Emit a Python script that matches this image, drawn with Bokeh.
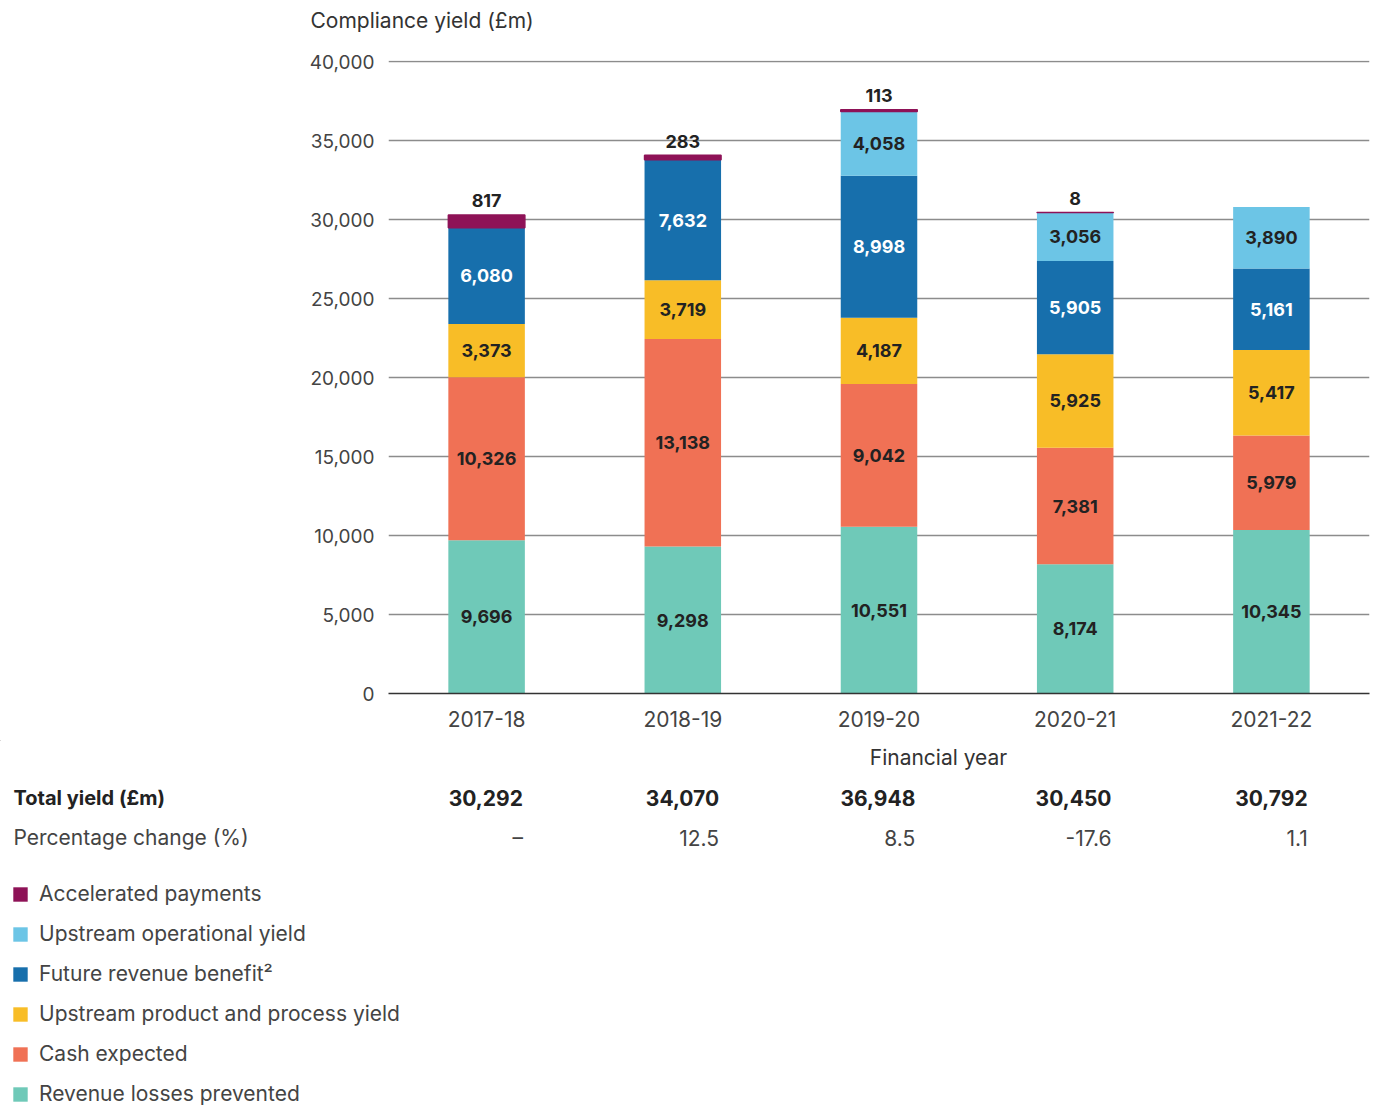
import numpy as np
from bokeh.plotting import figure
from bokeh.models import (Range1d, FixedTicker, NumeralTickFormatter, ColumnDataSource,
                          LabelSet, Legend, LegendItem)
from bokeh.core.properties import value
from bokeh.embed import file_html
from bokeh.resources import INLINE

# ---------------- data ----------------
years = ["2017-18", "2018-19", "2019-20", "2020-21", "2021-22"]
series_names = ["Revenue losses prevented", "Cash expected",
                "Upstream product and process yield", "Future revenue benefit²",
                "Upstream operational yield", "Accelerated payments"]
revenue_losses_prevented = [9696, 9298, 10551, 8174, 10345]
cash_expected = [10326, 13138, 9042, 7381, 5979]
upstream_product_process = [3373, 3719, 4187, 5925, 5417]
future_revenue_benefit = [6080, 7632, 8998, 5905, 5161]
upstream_operational = [0, 0, 4058, 3056, 3890]
accelerated_payments = [817, 283, 113, 8, 0]
total_yield = ["30,292", "34,070", "36,948", "30,450", "30,792"]
pct_change = ["–", "12.5", "8.5", "-17.6", "1.1"]
y_ticks = [0, 5000, 10000, 15000, 20000, 25000, 30000, 35000, 40000]

series_values = [revenue_losses_prevented, cash_expected, upstream_product_process,
                 future_revenue_benefit, upstream_operational, accelerated_payments]
colors = ["#6FC9B8", "#F07155", "#F8BD27", "#176FAC", "#6CC5E6", "#8E1257"]
label_colors = ["#222222", "#222222", "#222222", "#ffffff", "#222222"]

FONT = "Inter"
W = 1376
H0 = 40             # header height
H1 = 700            # main chart height (canvas y 40..740)
H2 = 1110 - H0 - H1 # table + legend height (canvas y 740..1110)
LEFT, RIGHT, TOP = 388, 7, 20
FRAME_BOTTOM = 693
BOTTOM1 = H0 + H1 - FRAME_BOTTOM
X0, X1 = -0.5, 4.5
UPX = (X1 - X0) / (W - LEFT - RIGHT)   # data units per pixel


def bare(fig):
    fig.axis.visible = False
    fig.grid.visible = False
    fig.outline_line_color = None
    fig.background_fill_color = "white"
    fig.border_fill_color = "white"


# ---------------- header ----------------
hdr = figure(width=W, height=H0, output_backend="svg", toolbar_location=None,
             x_range=Range1d(0, W), y_range=Range1d(H0, 0),
             min_border_left=0, min_border_right=0, min_border_top=0, min_border_bottom=0)
bare(hdr)
hdr.text(x=[310], y=[20], text=["Compliance yield (£m)"], text_font=value(FONT),
         text_font_size="21px", text_color="#333333", text_align="left",
         text_baseline="middle")

# ---------------- main chart ----------------
p = figure(width=W, height=H1, output_backend="svg", toolbar_location=None,
           x_range=Range1d(X0, X1), y_range=Range1d(0, 40070),
           min_border_left=LEFT, min_border_right=RIGHT,
           min_border_top=TOP, min_border_bottom=BOTTOM1)
p.outline_line_color = None
p.background_fill_color = "white"
p.border_fill_color = "white"

xs = np.arange(len(years))
bottom = np.zeros(len(years))
for i, (name, vals, col) in enumerate(zip(series_names, series_values, colors)):
    vals = np.array(vals, dtype=float)
    top = bottom + vals
    src = ColumnDataSource(dict(
        x=xs, bottom=bottom.copy(), top=top, mid=(bottom + top) / 2,
        txt=[f"{int(v):,}" if v > 0 else "" for v in vals],
        la=[1.0 if v > 0 else 0.0 for v in vals],
    ))
    if i == len(series_names) - 1:
        p.vbar(x="x", bottom="bottom", top="top", width=0.39, source=src,
               fill_color=col, line_color=col, line_alpha="la", line_width=1.5)
        p.add_layout(LabelSet(x="x", y="top", text="txt", source=src, y_offset=14,
                              text_align="center", text_baseline="middle",
                              text_font=value(FONT), text_font_style="bold",
                              text_font_size="18px", text_color="#222222"))
    else:
        p.vbar(x="x", bottom="bottom", top="top", width=0.39, source=src,
               fill_color=col, line_color=None)
        p.add_layout(LabelSet(x="x", y="mid", text="txt", source=src,
                              text_align="center", text_baseline="middle",
                              text_font=value(FONT), text_font_style="bold",
                              text_font_size="18px", text_color=label_colors[i]))
    bottom = top

p.yaxis.ticker = FixedTicker(ticks=y_ticks)
p.yaxis.formatter = NumeralTickFormatter(format="0,0")
p.yaxis.axis_line_color = None
p.yaxis.major_tick_line_color = None
p.yaxis.minor_tick_line_color = None
p.yaxis.major_label_text_font = FONT
p.yaxis.major_label_text_font_size = "19px"
p.yaxis.major_label_text_color = "#444444"
p.yaxis.major_label_standoff = 8

p.xaxis.ticker = FixedTicker(ticks=list(xs))
p.xaxis.major_label_overrides = {int(i): y for i, y in zip(xs, years)}
p.xaxis.axis_line_color = "#333333"
p.xaxis.axis_line_width = 1.3
p.xaxis.major_tick_line_color = None
p.xaxis.minor_tick_line_color = None
p.xaxis.major_label_text_font = FONT
p.xaxis.major_label_text_font_size = "21px"
p.xaxis.major_label_text_color = "#444444"
p.xaxis.major_label_standoff = 11

p.xgrid.grid_line_color = None
p.ygrid.grid_line_color = "#8c8c8c"
p.ygrid.grid_line_width = 1.3

# ---------------- table + legend ----------------
q = figure(width=W, height=H2, output_backend="svg", toolbar_location=None,
           x_range=Range1d(X0 - LEFT * UPX, X1 + RIGHT * UPX), y_range=Range1d(H2, 0),
           min_border_left=0, min_border_right=0, min_border_top=0, min_border_bottom=0)
bare(q)
Y2 = H0 + H1


def qx(px):  # canvas pixel -> data x in table figure
    return X0 - LEFT * UPX + px * UPX


def qy(py):  # canvas pixel -> data y in table figure
    return py - Y2


q.text(x=[qx(938)], y=[qy(757)], text=["Financial year"], text_font=value(FONT),
       text_font_size="21px", text_color="#333333", text_align="center",
       text_baseline="middle")
q.text(x=[qx(13)], y=[qy(797)], text=["Total yield (£m)"], text_font=value(FONT),
       text_font_size="20px", text_font_style="bold", text_color="#222222",
       text_align="left", text_baseline="middle")
q.text(x=[qx(13)], y=[qy(837)], text=["Percentage change (%)"], text_font=value(FONT),
       text_font_size="21px", text_color="#444444", text_align="left",
       text_baseline="middle")
tsrc = ColumnDataSource(dict(x=xs + 0.185, y1=[qy(797)] * len(xs), y2=[qy(837)] * len(xs),
                             tot=total_yield, pct=pct_change))
q.text(x="x", y="y1", text="tot", source=tsrc, text_font=value(FONT),
       text_font_size="21px", text_font_style="bold", text_color="#222222",
       text_align="right", text_baseline="middle")
q.text(x="x", y="y2", text="pct", source=tsrc, text_font=value(FONT),
       text_font_size="21px", text_color="#444444", text_align="right",
       text_baseline="middle")

# legend swatches: one-point renderers placed far outside the visible ranges
leg_renderers = []
for col in colors:
    leg_renderers.append(q.vbar(x=[X0 - 100], bottom=[-1001], top=[-1000], width=0.3,
                                fill_color=col, line_color=None))
items = [LegendItem(label=n, renderers=[r]) for n, r in zip(series_names, leg_renderers)][::-1]
legend = Legend(items=items, location=(11, H2 - (1106 - Y2)),
                glyph_width=18, glyph_height=18, label_height=18,
                label_standoff=10, spacing=15, padding=0, margin=0,
                border_line_color=None, background_fill_alpha=0,
                label_text_font=FONT, label_text_font_size="21px",
                label_text_color="#444444")
q.add_layout(legend, "center")

open("out.html", "w").write(file_html([hdr, p, q], INLINE))
